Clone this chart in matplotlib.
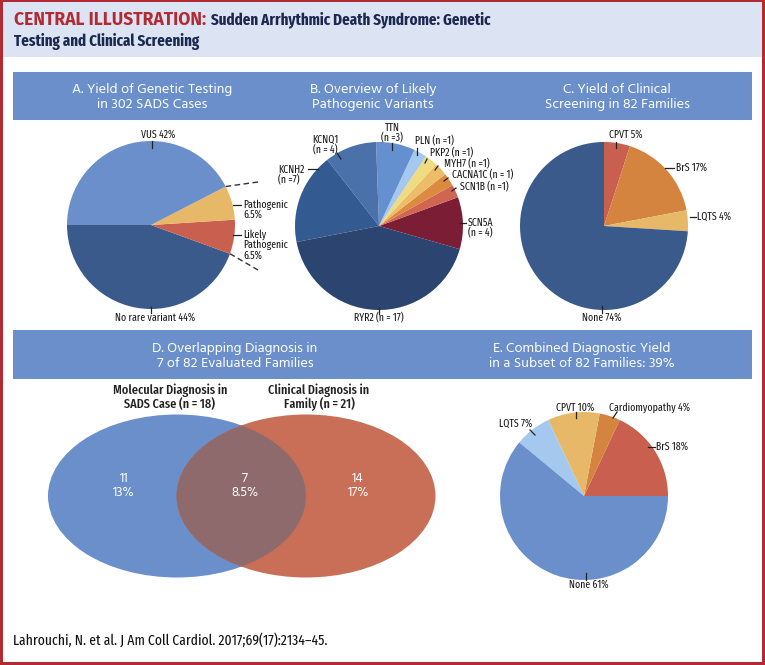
import matplotlib
matplotlib.use('Agg')
import matplotlib.pyplot as plt
from matplotlib import font_manager as fm
from matplotlib.patches import Rectangle, Ellipse
import numpy as np

# ---------------- data ----------------
title_red = "CENTRAL ILLUSTRATION:"
title_rest1 = "Sudden Arrhythmic Death Syndrome: Genetic"
title_rest2 = "Testing and Clinical Screening"
citation = "Lahrouchi, N. et al. J Am Coll Cardiol. 2017;69(17):2134\u201345."

headers_top = ["A. Yield of Genetic Testing\nin 302 SADS Cases",
               "B. Overview of Likely\nPathogenic Variants",
               "C. Yield of Clinical\nScreening in 82 Families"]
headers_bottom = ["D. Overlapping Diagnosis in\n7 of 82 Evaluated Families",
                  "E. Combined Diagnostic Yield\nin a Subset of 82 Families: 39%"]

# Panel A (counterclockwise from 180 deg)
a_labels = ["No rare variant", "Likely Pathogenic", "Pathogenic", "VUS"]
a_values = [44, 6.5, 6.5, 42]
a_colors = ["#3a5a8c", "#c9604f", "#e6b868", "#6a8fcb"]

# Panel B (counterclockwise from SCN5A)
b_genes = ["SCN5A", "SCN1B", "CACNA1C", "MYH7", "PKP2", "PLN", "TTN", "KCNQ1", "KCNH2", "RYR2"]
b_counts = [4, 1, 1, 1, 1, 1, 3, 4, 7, 17]
b_colors = ["#7b1d35", "#d06552", "#dc8a40", "#ecbc68", "#f0dc80", "#a5c8ee",
            "#6590d0", "#4b71ab", "#345a92", "#2c4470"]

# Panel C (clockwise from 90 deg)
c_labels = ["CPVT", "BrS", "LQTS", "None"]
c_values = [5, 17, 4, 74]
c_colors = ["#c9604f", "#d4843e", "#e6b868", "#3a5a8c"]

# Panel D (Venn)
d_titles = ["Molecular Diagnosis in\nSADS Case (n = 18)", "Clinical Diagnosis in\nFamily (n = 21)"]
d_counts = [11, 7, 14]
d_pcts = ["13%", "8.5%", "17%"]

# Panel E (counterclockwise from 0 deg)
e_labels = ["BrS", "Cardiomyopathy", "CPVT", "LQTS", "None"]
e_values = [18, 4, 10, 7, 61]
e_colors = ["#c9604f", "#d4843e", "#e6b868", "#a5c8ee", "#6a8fcb"]

# ---------------- fonts ----------------
avail = {f.name for f in fm.fontManager.ttflist}


def pick(cands):
    for c in cands:
        if c in avail:
            return [c, 'DejaVu Sans']
    return ['DejaVu Sans']


NARROW = pick(['Fira Sans Extra Condensed', 'Roboto Condensed', 'PT Sans Narrow',
               'Archivo Narrow', 'Barlow Semi Condensed', 'Asap Condensed',
               'Fira Sans Condensed', 'IBM Plex Sans Condensed', 'Encode Sans Condensed',
               'Liberation Sans Narrow', 'Liberation Sans'])
HEAD = pick(['Hind', 'Source Sans 3', 'Source Sans Pro', 'PT Sans', 'Lato'])
WIDEB = pick(['Fira Sans', 'Source Sans 3', 'Open Sans', 'Lato'])

# ---------------- figure ----------------
W, H = 765, 665
fig = plt.figure(figsize=(W / 100, H / 100), dpi=100)
ax = fig.add_axes([0, 0, 1, 1])
ax.set_xlim(0, W)
ax.set_ylim(0, H)
ax.axis('off')
renderer = fig.canvas.get_renderer()


def Y(y):
    return H - y


def fit(text, family, target, weight='normal', base=10.0):
    t = fig.text(0, 0, text, fontsize=base, family=family, fontweight=weight)
    w = t.get_window_extent(renderer).width
    t.remove()
    return base * target / w


RED = "#b22a32"
NAVY = "#1b2850"
BAR = "#6a8fcb"
LBL = fit("No rare variant 44%", NARROW, 80)
HDR = fit("A. Yield of Genetic Testing", HEAD, 159)
TTL = fit(title_rest1, NARROW, 281, 'bold')
TTLR = fit(title_red, WIDEB, 191, 'bold')
FOOT = fit(citation, NARROW, 314)
VENT = fit("Molecular Diagnosis in", NARROW, 114, 'medium')
VENN = fit("8.5%", HEAD, 27)

# border & title band
ax.add_patch(Rectangle((0, 0), W, H, facecolor='white', edgecolor='none', zorder=0))
ax.add_patch(Rectangle((3, Y(57)), W - 6, 55, facecolor="#dce3f3", edgecolor='none', zorder=1))
for r in [(0, 0, 3, H), (W - 3, 0, 3, H), (0, Y(2), W, 2), (0, 0, W, 3)]:
    ax.add_patch(Rectangle(r[:2], r[2], r[3], facecolor=RED, edgecolor='none', zorder=5))

ax.text(14, Y(20), title_red, color=RED, fontsize=TTLR, fontweight='bold',
        family=WIDEB, va='center', ha='left')
ax.text(211, Y(20), title_rest1, color=NAVY, fontsize=TTL, fontweight='bold',
        family=NARROW, va='center', ha='left')
ax.text(14, Y(42), title_rest2, color=NAVY, fontsize=TTL, fontweight='bold',
        family=NARROW, va='center', ha='left')

# header bars
ax.add_patch(Rectangle((13, Y(120)), 752 - 13, 48, facecolor=BAR, edgecolor='none', zorder=1))
ax.add_patch(Rectangle((13, Y(379)), 752 - 13, 49, facecolor=BAR, edgecolor='none', zorder=1))
for txt, x in zip(headers_top, [152, 373, 617]):
    ax.text(x, Y(97), txt, color='white', fontsize=HDR, family=HEAD, ha='center', va='center',
            linespacing=1.15, zorder=3)
for txt, x in zip(headers_bottom, [235, 582]):
    ax.text(x, Y(356), txt, color='white', fontsize=HDR, family=HEAD, ha='center', va='center',
            linespacing=1.15, zorder=3)


def pie(values, colors, cx, cy, r, start, ccw=True):
    w, _ = ax.pie(values, colors=colors, startangle=start, counterclock=ccw,
                  center=(cx, Y(cy)), radius=r, frame=True,
                  wedgeprops=dict(linewidth=0, edgecolor='none'))
    for p in w:
        p.set_zorder(2)
    return w


def tick(x0, y0, x1, y1):
    ax.plot([x0, x1], [Y(y0), Y(y1)], color='#222222', lw=0.9, zorder=4)


def lab(x, y, s, ha='center', va='center', **kw):
    ax.text(x, Y(y), s, fontsize=LBL, family=NARROW, ha=ha, va=va, color='#1a1a1a',
            linespacing=0.95, zorder=4, **kw)


# ---- Panel A ----
ax_c, ay_c, ar = 151, 225, 84
wa = pie(a_values, a_colors, ax_c, ay_c, ar, 180)
th_top = wa[2].theta2
th_bot = wa[1].theta1
for th, yend in [(th_top, 182), (th_bot, 270)]:
    x0 = ax_c + ar * np.cos(np.radians(th))
    y0 = Y(ay_c) + ar * np.sin(np.radians(th))
    ax.plot([x0, 258], [y0, Y(yend)], color='#333333', lw=1.0, ls=(0, (4, 2.5)), zorder=3)
lab(158, 135, "VUS 42%")
tick(152, 141, 152, 148)
lab(243, 210, "Pathogenic\n6.5%", ha='left')
tick(233, 205, 241, 205)
lab(243, 245, "Likely\nPathogenic\n6.5%", ha='left')
tick(233, 235, 241, 235)
lab(155, 318, "No rare variant 44%")
tick(151, 307, 151, 313)

# ---- Panel B ----
pie(b_counts, b_colors, 379, 226, 84, -16)
lab(392, 133, "TTN\n(n =3)")
tick(392, 143, 392, 150)
lab(325, 145, "KCNQ1\n(n = 4)")
tick(337, 153, 341, 159)
lab(278, 175, "KCNH2\n(n =7)", ha='left')
tick(308, 169, 318, 169)
lab(415, 141, "PLN (n =1)", ha='left')
tick(417, 148, 417, 155)
lab(430, 153, "PKP2 (n =1)", ha='left')
tick(427, 159, 425, 163)
lab(444, 164, "MYH7 (n =1)", ha='left')
tick(438, 166, 435, 170)
lab(452, 175, "CACNA1C (n = 1)", ha='left')
tick(448, 178, 444, 181)
lab(460, 187, "SCN1B (n =1)", ha='left')
tick(456, 188, 452, 191)
lab(468, 228, "SCN5A\n(n = 4)", ha='left')
tick(460, 223, 466, 223)
lab(379, 318, "RYR2 (n = 17)")
tick(379, 308, 379, 314)

# ---- Panel C ----
pie(c_values, c_colors, 604, 226, 84, 90, ccw=False)
lab(626, 135, "CPVT 5%")
tick(616, 142, 616, 148)
lab(676, 168, "BrS 17%", ha='left')
tick(665, 168, 674, 168)
lab(697, 217, "LQTS 4%", ha='left')
tick(690, 217, 696, 217)
lab(602, 318, "None 74%")
tick(602, 306, 602, 313)

# ---- Panel D (Venn) ----
left = Ellipse((177, Y(496)), 258, 163, facecolor="#6a8fcb", edgecolor='none', zorder=2)
right = Ellipse((306, Y(496)), 259, 163, facecolor="#c96f58", edgecolor='none', zorder=2)
ax.add_patch(left)
ax.add_patch(right)
over = Ellipse((306, Y(496)), 259, 163, facecolor="#8f6a6c", edgecolor='none', zorder=3)
ax.add_patch(over)
over.set_clip_path(left)
for x, n, p in zip([124, 245, 358], d_counts, d_pcts):
    ax.text(x, Y(485), f"{n}\n{p}", color='white', fontsize=VENN, family=HEAD, ha='center',
            va='center', linespacing=1.1, zorder=4)
for txt, x in zip(d_titles, [170, 319]):
    ax.text(x, Y(397), txt, fontsize=VENT, family=NARROW, fontweight='medium', color='#222222',
            ha='center', va='center', linespacing=1.0, zorder=4)

# ---- Panel E ----
pie(e_values, e_colors, 584, 496, 84, 0)
lab(575, 408, "CPVT 10%")
tick(576, 412, 576, 418)
lab(650, 408, "Cardiomyopathy 4%")
tick(613, 418, 617, 412)
lab(516, 424, "LQTS 7%")
tick(530, 430, 535, 435)
lab(656, 447, "BrS 18%", ha='left')
tick(648, 447, 655, 447)
lab(589, 585, "None 61%")
tick(586, 573, 586, 580)

# footer
ax.text(13, Y(640), citation, fontsize=FOOT, family=NARROW, color='#111111', ha='left', va='center')

ax.set_xlim(0, W)
ax.set_ylim(0, H)
ax.set_aspect('auto')
fig.savefig('out.png', dpi=100)
